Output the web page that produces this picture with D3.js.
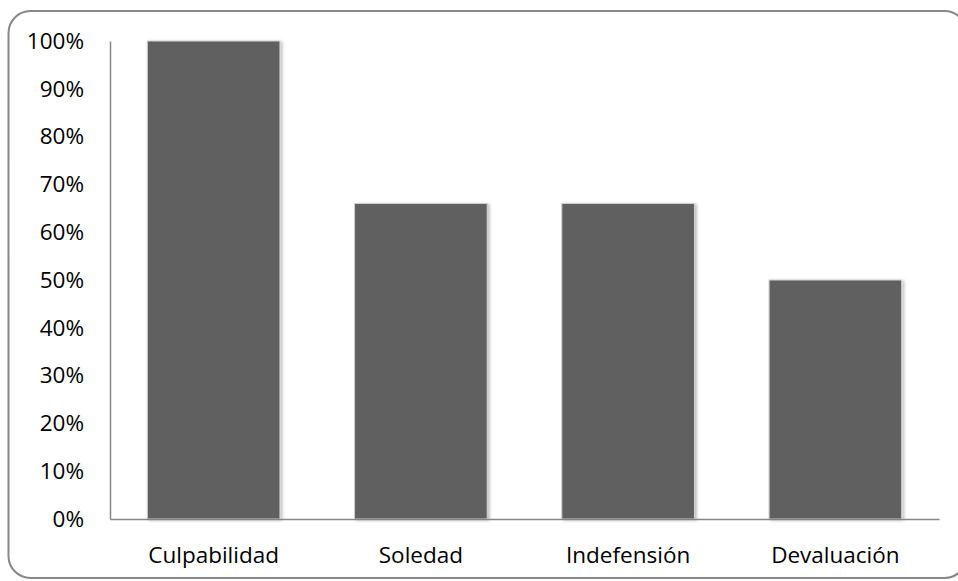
<!DOCTYPE html>
<html>
<head>
<meta charset="utf-8">
<title>Bar chart</title>
<script src="https://d3js.org/d3.v7.min.js"></script>
<style>
  body { margin: 0; background: #fff; }
  text { font-family: "Open Sans", "Noto Sans", sans-serif; fill: #000; }
</style>
</head>
<body>
<script>
var w = 958;
var h = 581;

var categories = ["Culpabilidad", "Soledad", "Indefensión", "Devaluación"];
var values = [1.00, 0.66, 0.66, 0.50];
var yTicks = [0, 0.1, 0.2, 0.3, 0.4, 0.5, 0.6, 0.7, 0.8, 0.9, 1.0];

var margin = {left: 110, right: 19, top: 41, bottom: 62};

var svg = d3.select("body").append("svg")
  .attr("width", w)
  .attr("height", h);

var defs = svg.append("defs");
var shadow = defs.append("filter").attr("id", "shadow")
  .attr("x", "-10%").attr("y", "-10%").attr("width", "130%").attr("height", "120%");
shadow.append("feDropShadow")
  .attr("dx", 2).attr("dy", 1).attr("stdDeviation", 1.5)
  .attr("flood-color", "#000").attr("flood-opacity", 0.25);

// outer frame, runs past the right edge
svg.append("rect")
  .attr("x", 8.5).attr("y", 11)
  .attr("width", 958).attr("height", 567)
  .attr("rx", 22).attr("ry", 22)
  .attr("fill", "none")
  .attr("stroke", "#878787")
  .attr("stroke-width", 2);

var x = d3.scaleBand()
  .domain(categories)
  .range([margin.left, w - margin.right])
  .paddingInner(0.36)
  .paddingOuter(0.18);

var y = d3.scaleLinear()
  .domain([0, 1])
  .range([h - margin.bottom, margin.top]);

svg.selectAll("rect.bar")
  .data(categories)
  .enter()
  .append("rect")
  .attr("class", "bar")
  .attr("x", function(d){ return x(d) })
  .attr("y", function(d, i){ return y(values[i]) })
  .attr("width", x.bandwidth())
  .attr("height", function(d, i){ return y(0) - y(values[i]) })
  .attr("fill", "#606060")
  .attr("stroke", "#d0d0d0")
  .attr("stroke-width", 1)
  .attr("filter", "url(#shadow)");

// y axis
var yAxis = svg.append("g")
  .attr("transform", "translate(" + margin.left + ",0)")
  .call(d3.axisLeft(y).tickValues(yTicks).tickFormat(d3.format(".0%")).tickSize(0).tickPadding(26));
yAxis.select(".domain").attr("stroke", "#868686").attr("stroke-width", 1.5);
yAxis.selectAll("text").attr("font-size", "22.5px").attr("font-family", "'Open Sans', sans-serif").attr("fill", "#000");

// x axis
var xAxis = svg.append("g")
  .attr("transform", "translate(0," + y(0) + ")")
  .call(d3.axisBottom(x).tickSize(0).tickPadding(28));
xAxis.select(".domain").attr("stroke", "#868686").attr("stroke-width", 1.5);
xAxis.selectAll("text").attr("font-size", "22.5px").attr("font-family", "'Open Sans', sans-serif").attr("fill", "#000");
</script>
</body>
</html>
